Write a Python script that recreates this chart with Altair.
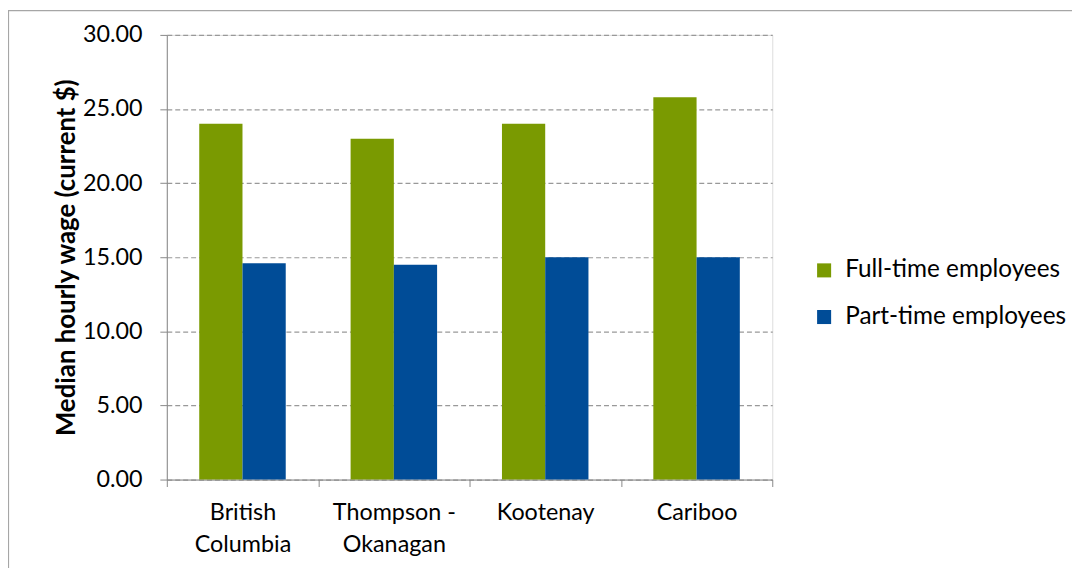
import altair as alt
import pandas as pd

regions = ["British Columbia", "Thompson - Okanagan", "Kootenay", "Cariboo"]
region_lines = [["British", "Columbia"], ["Thompson -", "Okanagan"], ["Kootenay"], ["Cariboo"]]
series = ["Full-time employees", "Part-time employees"]
full_time = [24.0, 23.0, 24.0, 25.8]
part_time = [14.6, 14.5, 15.0, 15.0]
colors = ["#7a9a01", "#004c97"]
y_ticks = [0, 5, 10, 15, 20, 25, 30]

rows = []
for r, f, p in zip(regions, full_time, part_time):
    rows.append({"region": r, "series": series[0], "wage": f})
    rows.append({"region": r, "series": series[1], "wage": p})
df = pd.DataFrame(rows)

label_expr = ""
for r, lines in zip(regions, region_lines):
    arr = "[" + ",".join("'" + l + "'" for l in lines) + "]"
    label_expr += f"datum.label == '{r}' ? {arr} : "
label_expr += "datum.label"

FONT = "Lato"
LEFT, TOP = 160, 25

bars = alt.Chart(df).mark_bar().encode(
    x=alt.X("region:N", sort=regions,
            scale=alt.Scale(paddingInner=0, paddingOuter=0),
            axis=alt.Axis(title=None, labelAngle=0, tickBand="extent",
                          labelExpr=label_expr, labelFontSize=23.5, labelFont=FONT,
                          labelColor="#000000", labelPadding=14, labelLineHeight=32,
                          domainColor="#888888", tickColor="#888888", tickSize=7,
                          labelBaseline="top")),
    xOffset=alt.XOffset("series:N", sort=series,
                        scale=alt.Scale(paddingInner=0, paddingOuter=0.75)),
    y=alt.Y("wage:Q", scale=alt.Scale(domain=[0, 30], nice=False),
            axis=alt.Axis(title="Median hourly wage (current $)", values=y_ticks,
                          format=".2f", labelFontSize=23.5, labelFont=FONT,
                          labelColor="#000000", labelPadding=18,
                          titleFont=FONT, titleFontSize=26, titleFontWeight="bold",
                          titleColor="#000000", titlePadding=3,
                          domainColor="#888888", tickColor="#888888", tickSize=7,
                          gridColor="#999999", gridDash=[5, 3], gridWidth=1.2)),
    color=alt.Color("series:N", sort=series,
                    scale=alt.Scale(domain=series, range=colors),
                    legend=alt.Legend(title=None, orient="none", legendX=650,
                                      legendY=225,
                                      symbolType="square", symbolSize=200,
                                      symbolStrokeWidth=0, labelFont=FONT,
                                      labelFontSize=24.5, labelColor="#000000",
                                      rowPadding=22, labelOffset=9, labelLimit=0)),
)

border = alt.Chart(pd.DataFrame({"a": [0]})).mark_rect(
    fill=None, stroke="#a6a6a6", strokeWidth=1.2, clip=False
).encode(x=alt.value(-LEFT + 0.5), x2=alt.value(1100), y=alt.value(-TOP + 0.5), y2=alt.value(620))

chart = alt.layer(border, bars).properties(
    width=610, height=448,
    autosize=alt.AutoSizeParams(type="none"),
    padding={"left": LEFT, "top": TOP, "right": 1072 - LEFT - 610, "bottom": 560 - TOP - 448},
).configure_view(stroke=None).configure(background="white")

chart.save("out.html", embed_options={"renderer": "svg", "actions": False})
